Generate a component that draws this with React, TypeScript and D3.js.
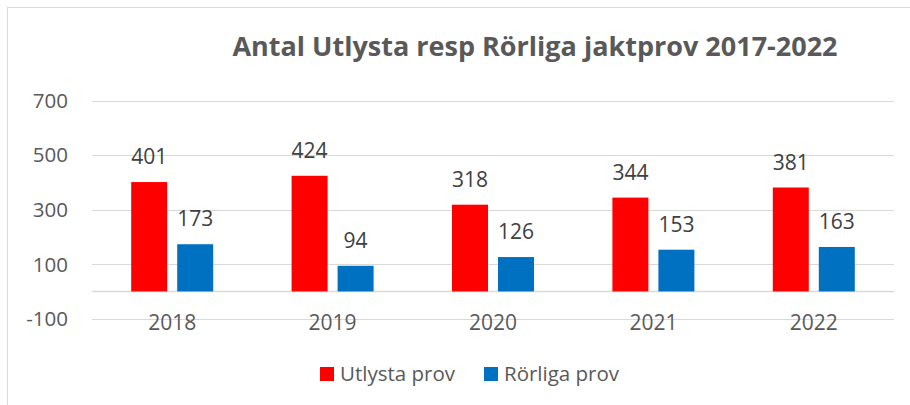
import React from "react";
import * as d3 from "d3";

const years = ["2018", "2019", "2020", "2021", "2022"];
const utlysta = [401, 424, 318, 344, 381];
const rorliga = [173, 94, 126, 153, 163];
const yTicks = [-100, 100, 300, 500, 700];
const gridValues = [-100, 0, 100, 300, 500, 700];
const seriesNames = ["Utlysta prov", "Rörliga prov"];
const seriesColors = ["#FF0000", "#0070C0"];
const title = "Antal Utlysta resp Rörliga jaktprov 2017-2022";

const W = 910;
const H = 405;
const FONT = "'Open Sans', 'Liberation Sans', sans-serif";
const TXT = "#595959";

export default function App() {
  const x = d3.scaleBand<string>().domain(years).range([92, 894]).padding(0);
  const y = d3.scaleLinear().domain([-100, 700]).range([318.7, 100.5]);
  const groupW = 82;
  const inner = d3
    .scaleBand<number>()
    .domain([0, 1])
    .range([0, groupW])
    .paddingInner(10 / 46)
    .paddingOuter(0);
  const off = (x.bandwidth() - groupW) / 2;
  const series = [utlysta, rorliga];

  return (
    <svg
      width={W}
      height={H}
      style={{ position: "absolute", left: 0, top: 0, background: "#fff" }}
      fontFamily={FONT}
    >
      <rect x={0} y={0} width={W} height={H} fill="#fff" />
      <rect x={7.5} y={7.5} width={W + 20} height={H + 20} fill="none" stroke="#d9d9d9" strokeWidth={1} />
      <text x={535} y={56} textAnchor="middle" fontSize={27} fontWeight="bold" fill={TXT}>
        {title}
      </text>
      {gridValues.map((v) => (
        <line
          key={v}
          x1={92}
          x2={894}
          y1={Math.round(y(v)) + 0.5}
          y2={Math.round(y(v)) + 0.5}
          stroke="#d9d9d9"
          strokeWidth={v === 0 ? 1.5 : 1.2}
        />
      ))}
      {yTicks.map((v) => (
        <text key={v} x={68} y={y(v)} dy="0.36em" textAnchor="end" fontSize={20.5} fill={TXT}>
          {v}
        </text>
      ))}
      {years.map((yr, i) => (
        <g key={yr}>
          {series.map((s, j) => {
            const bx = (x(yr) as number) + off + (inner(j) as number);
            const top = y(s[i]);
            return (
              <g key={j}>
                <rect x={bx} y={top} width={inner.bandwidth()} height={y(0) - top} fill={seriesColors[j]} />
                <text
                  x={bx + inner.bandwidth() / 2}
                  y={top - 18}
                  textAnchor="middle"
                  fontSize={21}
                  fill="#404040"
                >
                  {s[i]}
                </text>
              </g>
            );
          })}
          <text x={(x(yr) as number) + x.bandwidth() / 2} y={330} textAnchor="middle" fontSize={21} fill={TXT}>
            {yr}
          </text>
        </g>
      ))}
      {seriesNames.map((n, j) => {
        const lx = j === 0 ? 320 : 484;
        return (
          <g key={n}>
            <rect x={lx} y={367} width={14} height={14} fill={seriesColors[j]} />
            <text x={lx + 20} y={381} fontSize={20.5} fill={TXT}>
              {n}
            </text>
          </g>
        );
      })}
    </svg>
  );
}
